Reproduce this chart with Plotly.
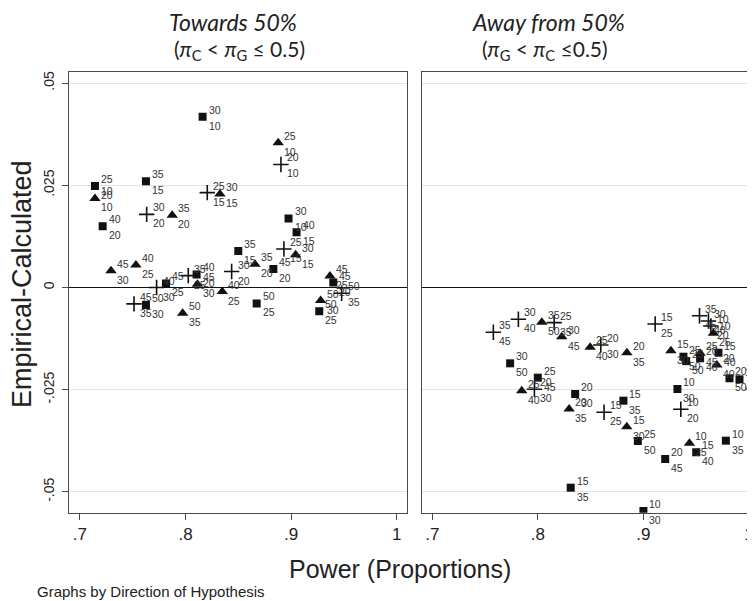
import plotly.graph_objects as go

# ---------------- data ----------------
# Left panel: Towards 50%  (upper label / lower label next to each marker)
LS_x = [0.8162, 0.7142, 0.7625, 0.7215, 0.8500, 0.8832, 0.8976, 0.9052, 0.7815, 0.8105, 0.7625, 0.8674, 0.9400, 0.9267]
LS_y = [0.0418, 0.0248, 0.0260, 0.0150, 0.0089, 0.0045, 0.0169, 0.0135, 0.0010, 0.0032, -0.0043, -0.0039, 0.0012, -0.0058]
LS_up = ["30", "25", "35", "40", "35", "45", "30", "40", "45", "40", "50", "50", "45", "50"]
LS_lo = ["10", "20", "15", "20", "15", "20", "10", "15", "25", "20", "30", "25", "20", "25"]

LT_x = [0.7142, 0.8326, 0.7874, 0.8658, 0.8878, 0.9043, 0.7294, 0.7530, 0.8113, 0.8348, 0.7973, 0.9368, 0.9280]
LT_y = [0.0218, 0.0229, 0.0177, 0.0057, 0.0354, 0.0080, 0.0041, 0.0055, 0.0008, -0.0010, -0.0063, 0.0028, -0.0032]
LT_up = ["10", "30", "35", "35", "25", "30", "45", "40", "45", "40", "50", "45", "50"]
LT_lo = ["10", "15", "20", "20", "10", "15", "30", "25", "30", "25", "35", "25", "30"]

LP_x = [0.8206, 0.7632, 0.8904, 0.8932, 0.7726, 0.8026, 0.7512, 0.8437, 0.9479]
LP_y = [0.0232, 0.0179, 0.0301, 0.0094, 0.0000, 0.0029, -0.0040, 0.0039, -0.0014]
LP_up = ["25", "30", "20", "25", "40", "35", "45", "30", "50"]
LP_lo = ["15", "20", "10", "15", "30", "25", "35", "20", "35"]

# Right panel: Away from 50%
RS_x = [0.7737, 0.7999, 0.8353, 0.8810, 0.8947, 0.8311, 0.9000, 0.9322, 0.9500, 0.9206, 0.9781,
        0.9379, 0.9405, 0.9537, 0.9711, 0.9815, 0.9910]
RS_y = [-0.01855, -0.02206, -0.02605, -0.02769, -0.03755, -0.04897, -0.05467, -0.02483, -0.04031, -0.04195, -0.03747,
        -0.01693, -0.01800, -0.01732, -0.01595, -0.02221, -0.02246]
RS_up = ["30", "25", "20", "15", "25", "15", "10", "10", "15", "20", "10",
         "25", "25", "20", "15", "20", "15"]
RS_lo = ["50", "45", "30", "35", "50", "35", "30", "30", "40", "45", "35",
         "50", "50", "40", "40", "50", "45"]

RT_x = [0.8037, 0.8226, 0.8495, 0.8843, 0.7847, 0.8296, 0.8842, 0.9436,
        0.9260, 0.9537, 0.9663, 0.9696]
RT_y = [-0.00851, -0.01203, -0.01463, -0.01595, -0.02524, -0.02972, -0.03405, -0.03811,
        -0.01546, -0.01610, -0.01120, -0.01896]
RT_up = ["35", "30", "25", "20", "25", "20", "15", "10",
         "15", "25", "10", "20"]
RT_lo = ["50", "45", "40", "35", "40", "35", "30", "25",
         "30", "45", "25", "40"]

RP_x = [0.7578, 0.7815, 0.8154, 0.8596, 0.7967, 0.8627, 0.9354, 0.9111, 0.9531, 0.9616, 0.9639]
RP_y = [-0.01096, -0.00778, -0.00860, -0.01407, -0.02490, -0.03053, -0.02979, -0.00893, -0.00690, -0.00820, -0.00942]
RP_up = ["35", "30", "25", "20", "20", "15", "10", "15", "35", "30", "10"]
RP_lo = ["45", "40", "35", "30", "30", "25", "20", "25", "45", "40", "20"]

TICK_X = [0.7, 0.8, 0.9, 1.0]
TICK_X_TEXT = [".7", ".8", ".9", "1"]
TICK_Y = [-0.05, -0.025, 0, 0.025, 0.05]
TICK_Y_TEXT = ["-.05", "-.025", "0", ".025", ".05"]

# ---------------- figure ----------------
# the page body has an 8px margin, so the figure is placed at (8, 8)
OFF = 8
W, H = 755 - OFF, 601 - OFF


def fx(p):  # page x pixel -> paper x
    return (p - OFF) / W


def fy(p):  # page y pixel -> paper y
    return 1 - (p - OFF) / H


fig = go.Figure()

MK = dict(
    square=dict(symbol="square", size=8, color="#111111"),
    triangle=dict(symbol="triangle-up", size=10, color="#111111"),
    plus=dict(symbol="cross-thin", size=11, color="#111111", line=dict(width=1.6, color="#111111")),
)

LABEL_FONT = dict(family="Liberation Sans, Arial, sans-serif", size=10.5, color="#333333")
annotations = []


def add_series(xs, ys, ups, los, kind, xa, ya):
    fig.add_trace(go.Scatter(x=xs, y=ys, mode="markers", marker=MK[kind],
                             xaxis=xa, yaxis=ya, showlegend=False, hoverinfo="skip"))
    for xv, yv, u, l in zip(xs, ys, ups, los):
        annotations.append(dict(x=xv, y=yv, xref=xa, yref=ya, text=u, showarrow=False,
                                xanchor="left", yanchor="middle", xshift=5, yshift=7,
                                borderpad=0, font=LABEL_FONT))
        annotations.append(dict(x=xv, y=yv, xref=xa, yref=ya, text=l, showarrow=False,
                                xanchor="left", yanchor="middle", xshift=5, yshift=-9,
                                borderpad=0, font=LABEL_FONT))


add_series(LS_x, LS_y, LS_up, LS_lo, "square", "x", "y")
add_series(LT_x, LT_y, LT_up, LT_lo, "triangle", "x", "y")
add_series(LP_x, LP_y, LP_up, LP_lo, "plus", "x", "y")
add_series(RS_x, RS_y, RS_up, RS_lo, "square", "x2", "y2")
add_series(RT_x, RT_y, RT_up, RT_lo, "triangle", "x2", "y2")
add_series(RP_x, RP_y, RP_up, RP_lo, "plus", "x2", "y2")

FRAME = "#4a4a4a"
XT_FONT = dict(family="Liberation Sans, Arial, sans-serif", size=17, color="#222222")
YT_FONT = dict(family="Liberation Sans, Arial, sans-serif", size=14, color="#222222")

common_x = dict(tickvals=TICK_X, ticktext=TICK_X_TEXT, ticks="outside", ticklen=6, tickwidth=1,
                tickcolor=FRAME, showline=True, linecolor=FRAME, linewidth=1.3, mirror=True,
                showgrid=False, zeroline=False, tickfont=XT_FONT)
y_dom = [fy(512.7), fy(71.7)]
y_rng = [-0.05509, 0.05279]
common_y = dict(range=y_rng, domain=y_dom, tickvals=TICK_Y, ticktext=TICK_Y_TEXT,
                showgrid=True, gridcolor="#e3e3e3", gridwidth=1.3,
                zeroline=True, zerolinecolor="#111111", zerolinewidth=1.3,
                showline=True, linecolor=FRAME, linewidth=1.3, tickfont=YT_FONT)

# right panel is cut by the window edge at page x = 755
x2_end = 0.6902 + (755 - 422) / 1055.5

fig.update_layout(
    width=W, height=H, margin=dict(l=0, r=0, t=0, b=0),
    paper_bgcolor="white", plot_bgcolor="white",
    xaxis=dict(common_x, domain=[fx(69.3), fx(407.3)], range=[0.6899, 1.0101], anchor="y"),
    xaxis2=dict(common_x, domain=[fx(422), 1.0], range=[0.6902, x2_end], anchor="y2"),
    yaxis=dict(common_y, anchor="x", mirror=True, ticks="outside", ticklen=6, tickcolor=FRAME,
               tickangle=-90, ticklabelstandoff=3),
    yaxis2=dict(common_y, anchor="x2", matches="y", showticklabels=False, ticks=""),
)

TITLE_FONT = dict(family="Lato, Open Sans, sans-serif", size=23, color="#222222")
SUB_FONT = dict(family="Lato, Open Sans, sans-serif", size=21, color="#222222")
annotations += [
    dict(x=fx(233), y=fy(22), xref="paper", yref="paper", text="<i>Towards 50%</i>",
         showarrow=False, xanchor="center", yanchor="middle", font=TITLE_FONT),
    dict(x=fx(240), y=fy(50), xref="paper", yref="paper",
         text="(<i>π</i><sub>C</sub> < <i>π</i><sub>G</sub> ≤ 0.5)",
         showarrow=False, xanchor="center", yanchor="middle", font=SUB_FONT),
    dict(x=fx(548), y=fy(22), xref="paper", yref="paper", text="<i>Away from 50%</i>",
         showarrow=False, xanchor="center", yanchor="middle", font=TITLE_FONT),
    dict(x=fx(545), y=fy(50), xref="paper", yref="paper",
         text="(<i>π</i><sub>G</sub> < <i>π</i><sub>C</sub> ≤0.5)",
         showarrow=False, xanchor="center", yanchor="middle", font=SUB_FONT),
    dict(x=fx(22), y=fy(284), xref="paper", yref="paper", text="Empirical-Calculated",
         textangle=-90, showarrow=False, xanchor="center", yanchor="middle",
         font=dict(family="Liberation Sans, Arial, sans-serif", size=27, color="#222222")),
    dict(x=fx(400), y=fy(569), xref="paper", yref="paper", text="Power (Proportions)",
         showarrow=False, xanchor="center", yanchor="middle",
         font=dict(family="Liberation Sans, Arial, sans-serif", size=25, color="#222222")),
    dict(x=fx(35), y=fy(591), xref="paper", yref="paper", text="Graphs by Direction of Hypothesis",
         showarrow=False, xanchor="left", yanchor="middle",
         font=dict(family="Liberation Sans, Arial, sans-serif", size=15, color="#222222")),
]

fig.update_layout(annotations=annotations)
fig.write_html("out.html")
